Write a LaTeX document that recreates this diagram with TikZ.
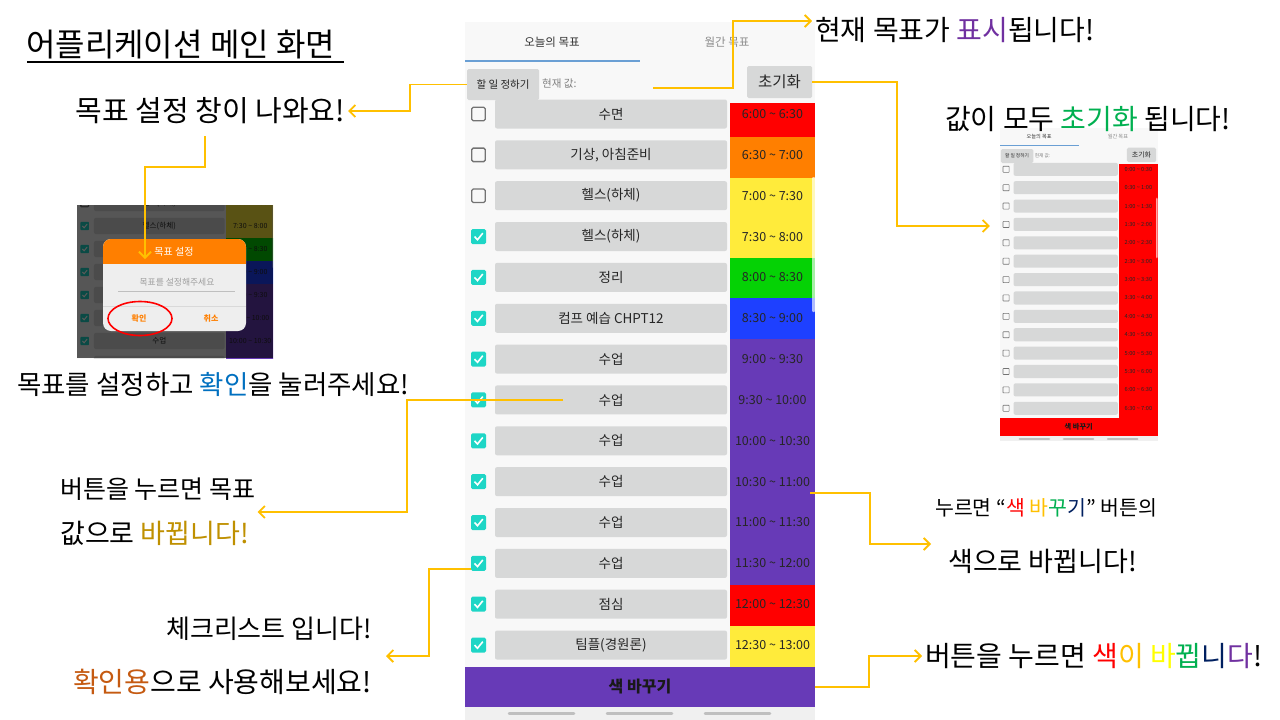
\documentclass[tikz,border=0pt]{standalone}
\usepackage{fontspec}
\setmainfont{Noto Sans CJK KR}
\usetikzlibrary{arrows.meta}
\definecolor{arrowc}{HTML}{FFC000}
\definecolor{phonebg}{HTML}{F8F8F8}
\definecolor{btng}{HTML}{D7D8D8}
\definecolor{chkc}{HTML}{1ED6C6}
\definecolor{corange}{HTML}{FF7F00}
\definecolor{cyellow}{HTML}{FFEB3B}
\definecolor{cgreen}{HTML}{05D205}
\definecolor{cblue}{HTML}{1E40FF}
\definecolor{cpurple}{HTML}{673AB7}
\definecolor{tabblue}{HTML}{6A9FD4}
\definecolor{navbg}{HTML}{F0F0F0}
\definecolor{dlgbg}{HTML}{EEEEEE}
\definecolor{dorange}{HTML}{FF7F00}
\definecolor{purpleT}{HTML}{7030A0}
\definecolor{greenT}{HTML}{00B050}
\definecolor{blueT}{HTML}{0070C0}
\definecolor{goldT}{HTML}{BF9000}
\definecolor{brownT}{HTML}{C55A11}
\definecolor{yellowT}{HTML}{FFC000}
\definecolor{pureyellow}{HTML}{FFFF00}
\definecolor{navyT}{HTML}{002060}
\newif\ifresetmode
\newif\ifpopmode
\newcommand\tld{\textasciitilde}
\newcommand\chkw{1.3pt}
\newcommand\chkr{1.5pt}
\newcommand\ckw{1.6pt}
\tikzset{
  conn/.style={draw=arrowc, line width=1.8pt, -{Straight Barb[length=6pt,width=12pt]}},
  ann/.style={inner sep=0pt, text=black, font=\fontsize{#1}{#1}\selectfont},
  topbtn/.style={fill=btng, inner sep=0pt, text=black!85, rounded corners=1.5},
  rowbtn/.style={fill=btng, minimum width=232, minimum height=29, inner sep=0pt, rounded corners=2},
  rowlab/.style={font=\fontsize{13.5}{14}\selectfont, text=black!85, inner sep=0pt},
  timelab/.style={font=\fontsize{12.5}{13}\selectfont, text=black!85, inner sep=0pt},
  chkon/.style={fill=chkc, minimum size=15, inner sep=0pt, rounded corners=\chkr},
  chkoff/.style={draw=black!55, line width=\chkw, minimum size=13.5, inner sep=0pt, rounded corners=\chkr},
  checkm/.style={draw=white, line width=\ckw},
  bigbtn/.style={minimum width=350, minimum height=40, inner sep=0pt, text=black!90, font=\fontsize{16}{16}\selectfont\bfseries},
  pill/.style={draw=black!25, line width=2.5pt, line cap=round},
}
\newcommand\phonebody{%
  \fill[phonebg] (465,22) rectangle (815,720);
  \ifpopmode\else
  \node[font=\fontsize{11.5}{12}\selectfont, text=black!80, inner sep=0pt] (tabA) at (552,42) {오늘의 목표};
  \node[font=\fontsize{11.5}{12}\selectfont, text=black!45, inner sep=0pt] (tabB) at (727,42) {월간 목표};
  \draw[tabblue, line width=1.5pt] (465,61) -- (640,61);
  \node[topbtn, minimum width=72, minimum height=31, font=\fontsize{10.5}{11}\selectfont] (setbtn) at (503,84.5) {할 일 정하기};
  \node[anchor=west, inner sep=0pt, text=black!50, font=\fontsize{10.5}{11}\selectfont] (curval) at (542,84) {현재 값:};
  \node[topbtn, minimum width=65, minimum height=32, font=\fontsize{15.5}{16}\selectfont] (resetbtn) at (779.5,82) {초기화};
  \fi
  \ifresetmode
    \fill[red] (730,103) rectangle (815,667);
    \def\bbcol{red}%
  \else
    \fill[red] (730,103) rectangle (815,137);
    \fill[corange] (730,137) rectangle (815,178);
    \fill[cyellow] (730,178) rectangle (815,258);
    \fill[cgreen] (730,258) rectangle (815,298);
    \fill[cblue] (730,298) rectangle (815,339);
    \fill[cpurple] (730,339) rectangle (815,585);
    \fill[red] (730,585) rectangle (815,626);
    \fill[cyellow] (730,626) rectangle (815,667);
    \def\bbcol{cpurple}%
  \fi
  \fill[white, opacity=0.65, rounded corners=1] (812,177) rectangle (815,312);
  \foreach \i/\lab/\tm/\tmr/\chk in {
    0/수면/6:00 \tld{} 6:30/0:00 \tld{} 0:30/0,
    1/{기상, 아침준비}/6:30 \tld{} 7:00/0:30 \tld{} 1:00/0,
    2/헬스(하체)/7:00 \tld{} 7:30/1:00 \tld{} 1:30/0,
    3/헬스(하체)/7:30 \tld{} 8:00/1:30 \tld{} 2:00/1,
    4/정리/8:00 \tld{} 8:30/2:00 \tld{} 2:30/1,
    5/컴프 예습 CHPT12/8:30 \tld{} 9:00/2:30 \tld{} 3:00/1,
    6/수업/9:00 \tld{} 9:30/3:00 \tld{} 3:30/1,
    7/수업/9:30 \tld{} 10:00/3:30 \tld{} 4:00/1,
    8/수업/10:00 \tld{} 10:30/4:00 \tld{} 4:30/1,
    9/수업/10:30 \tld{} 11:00/4:30 \tld{} 5:00/1,
    10/수업/11:00 \tld{} 11:30/5:00 \tld{} 5:30/1,
    11/수업/11:30 \tld{} 12:00/5:30 \tld{} 6:00/1,
    12/점심/12:00 \tld{} 12:30/6:00 \tld{} 6:30/1,
    13/팀플(경원론)/12:30 \tld{} 13:00/6:30 \tld{} 7:00/1}
  {
    \def\doit{1}\def\dolab{1}%
    \ifresetmode \def\dolab{0}\fi
    \ifpopmode
      \ifnum\i<2 \def\doit{0}\fi
      \ifnum\i>9 \def\doit{0}\fi
      \ifnum\i>3 \ifnum\i<8 \def\dolab{0}\fi\fi
    \fi
    \ifnum\doit=1
    \pgfmathsetmacro\yy{114+40.85*\i}
    \node[rowbtn] (btn\i) at (611,\yy) {};
    \ifnum\dolab=1 \node[rowlab] (lab\i) at (611,\yy) {\lab};\fi
    \node[timelab] (time\i) at (772.5,\yy) {\ifresetmode\tmr\else\tm\fi};
    \ifresetmode
      \node[chkoff] (chk\i) at (478.5,\yy) {};
    \else
      \ifnum\chk=1
        \node[chkon] (chk\i) at (478.5,\yy) {};
        \draw[checkm] (474.5,\yy) -- (477.5,\yy+3.2) -- (482.8,\yy-3.4);
      \else
        \node[chkoff] (chk\i) at (478.5,\yy) {};
      \fi
    \fi
    \fi
  }
  \ifpopmode\else
  \node[bigbtn, fill=\bbcol] (colorbtn) at (640,687) {색 바꾸기};
  \fill[navbg] (465,707) rectangle (815,720);
  \foreach \px in {509,607,705} { \draw[pill] (\px,713.5) -- ++(65,0); }
  \fi
}
\begin{document}
\begin{tikzpicture}[x=1pt,y=-1pt]
\useasboundingbox (0,0) rectangle (1280,720);
\fill[white] (0,0) rectangle (1280,720);

% small "reset" screenshot
\begin{scope}
  \clip (1000,128) rectangle (1158,440);
  \resetmodetrue
  \renewcommand\chkw{0.6pt}\renewcommand\chkr{0.5pt}
  \begin{scope}[shift={(790.75,118)}, scale=0.45, transform shape, name prefix=sm-]
    \phonebody
  \end{scope}
  \resetmodefalse
\end{scope}
\node[inner sep=0pt, minimum width=158, minimum height=312] (smallshot) at (1079,284) {};

% popup screenshot
\begin{scope}
  \clip (77,205) rectangle (273,358);
  \popmodetrue
  \renewcommand\chkr{0.8pt}\renewcommand\ckw{1pt}
  \begin{scope}[shift={(-184.7,92.8)}, scale=0.563, transform shape, name prefix=pop-]
    \phonebody
  \end{scope}
  \popmodefalse
  \fill[black, opacity=0.65] (77,205) rectangle (273,358);
\end{scope}
\node[fill=dlgbg, rounded corners=8, minimum width=143, minimum height=92, inner sep=0pt] (dialog) at (174.5,285) {};
\begin{scope}
  \clip[rounded corners=8] (103,239) rectangle (246,331);
  \fill[dorange] (103,239) rectangle (246,264);
\end{scope}
\node[text=white, inner sep=0pt, font=\fontsize{10}{10}\selectfont] (poptitle) at (174,252) {목표 설정};
\node[text=black!38, inner sep=0pt, font=\fontsize{8.8}{9}\selectfont] (placeholder) at (177,282) {목표를 설정해주세요};
\draw[black!25, line width=1pt] (118,291) -- (235,291);
\draw[black!15, line width=0.6pt] (103,306) -- (246,306);
\node[text=dorange, inner sep=0pt, font=\fontsize{8}{8}\selectfont\bfseries] (okbtn) at (139,318) {확인};
\node[text=dorange, inner sep=0pt, font=\fontsize{8}{8}\selectfont\bfseries] (cancelbtn) at (211,318) {취소};
\draw[red, line width=1.6pt] (140,318.5) ellipse [x radius=32, y radius=17];
\coordinate (popArrow) at (145,259);

% main phone
\phonebody
\coordinate (curvalend) at (653,88);

% annotations
\node[ann=32, anchor=west] (t1) at (26,45) {어플리케이션 메인 화면};
\draw[line width=1.6pt] (27,62) -- (344,62);
\node[ann=29, anchor=east] (t2) at (345,111) {목표 설정 창이 나와요!};
\node[ann=28, anchor=west] (t3) at (815,30) {현재 목표가 {\color{purpleT}표시}됩니다!};
\node[ann=28, anchor=west] (t4) at (945,119) {값이 모두 {\color{greenT}초기화} 됩니다!};
\node[ann=26.5, anchor=west] (t5) at (17,384) {목표를 설정하고 {\color{blueT}확인}을 눌러주세요!};
\node[ann=25, anchor=west, align=left] (t7) at (60,512) {\fontsize{25}{25}\selectfont 버튼을 누르면 목표\\[20pt]\fontsize{27}{25}\selectfont 값으로 {\color{goldT}바뀝니다!}};
\node[ann=26, anchor=east, align=right] (t8) at (372,656) {\fontsize{26}{26}\selectfont 체크리스트 입니다!\\[28pt]\fontsize{28}{26}\selectfont {\color{brownT}확인용}으로 사용해보세요!};
\node[ann=21, anchor=west, align=left] (t9) at (935,536) {\fontsize{20.5}{21}\selectfont 누르면 “{\color{red}색} {\color{yellowT}바}{\color{greenT}꾸}{\color{navyT}기}” 버튼의\\[31pt]\fontsize{27}{21}\selectfont\hspace*{13pt}색으로 바뀝니다!};
\node[ann=28, anchor=west] (t10) at (925,656) {버튼을 누르면 {\color{red}색}{\color{yellowT}이} {\color{pureyellow}바}{\color{greenT}뀝}{\color{navyT}니}{\color{purpleT}다}!};

% connectors
\draw[conn, shorten >=3pt] (setbtn.west) -- ++(-57,0) |- (t2.east);
\draw[conn] ([xshift=-5pt,yshift=-12pt]t2.south) -- ++(0,31) -| (popArrow);
\draw[conn, shorten >=3pt] (curvalend) -- ++(80,0) |- ([yshift=9pt]t3.west);
\draw[conn, shorten >=10pt] (resetbtn.east) -- ++(85,0) |- ([yshift=58pt]smallshot.west);
\draw[conn, shorten >=2pt] ([xshift=-48pt]btn7.center) -- ++(-156,0) |- (t7.east);
\draw[conn, shorten >=14pt] ([yshift=-6pt]chk11.west) -- ++(-42,0) |- (t8.east);
\draw[conn, shorten >=4pt] ([yshift=-11pt]time9.east) -- ++(60,0) |- ([yshift=-8pt]t9.west);
\draw[conn, shorten >=3pt] (colorbtn.east) -- ++(54,0) |- (t10.west);
\end{tikzpicture}
\end{document}
